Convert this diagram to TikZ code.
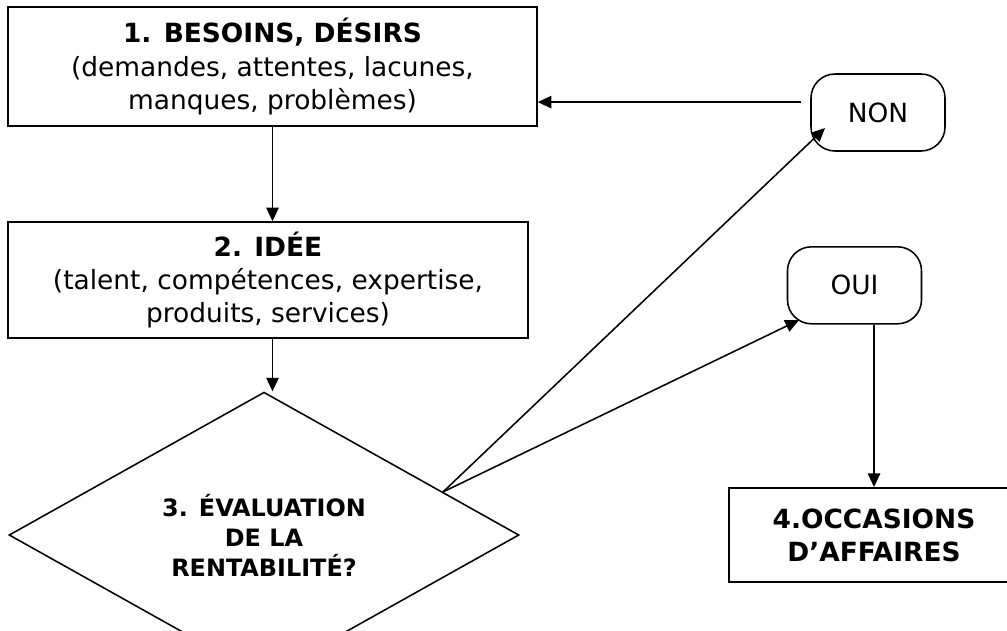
\documentclass[tikz,border=0pt]{standalone}
\usepackage{fontspec}
\setmainfont{DejaVu Sans}
\usetikzlibrary{shapes,arrows.meta,positioning,calc}

\begin{document}
\begin{tikzpicture}[
    box/.style={rectangle, draw, line width=1.1pt, align=center, inner sep=0pt, font=\fontsize{18.8}{23.5}\selectfont},
    term/.style={rectangle, rounded corners=0.6cm, draw, line width=1.1pt, inner sep=0pt, minimum width=3.35cm, minimum height=1.925cm, font=\fontsize{18.8}{23.5}\selectfont},
    decision/.style={diamond, draw, line width=1.1pt, align=center, inner sep=0pt, minimum width=12.75cm, minimum height=4.8cm, font=\fontsize{17}{21.3}\selectfont\bfseries},
    arrow/.style={-{Triangle[length=0.34cm,width=0.31cm]}, line width=1.1pt}
]
\useasboundingbox (0,0) rectangle (25.175,-15.75);

% Steps
\node[box, minimum width=13.225cm, minimum height=2.975cm] (besoins) at (6.8125,-1.6625)
    {\textbf{1. BESOINS, DÉSIRS}\\(demandes, attentes, lacunes,\\manques, problèmes)};
\node[box, minimum width=13cm, minimum height=2.9cm] (idee) at (6.7,-7.0)
    {\textbf{2. IDÉE}\\(talent, compétences, expertise,\\produits, services)};
\node[decision] (evaluation) at (6.6,-13.375) {3. ÉVALUATION\\DE LA\\RENTABILITÉ?};
\node[box, minimum width=7.25cm, minimum height=2.36cm, font=\fontsize{18.8}{23.5}\selectfont\bfseries] (occasions) at (21.85,-13.375)
    {4.OCCASIONS\\D’AFFAIRES};

% Answers
\node[term] (non) at (21.95,-2.8125) {NON};
\node[term] (oui) at (21.3625,-7.1325) {OUI};

% Arrows
\coordinate (depart) at ($(evaluation.north)!0.7!(evaluation.east)$);
\coordinate (retour) at ([shift={(-0.225,0.26)}]non.west);
\draw[arrow] (besoins.south) -- (besoins.south |- idee.north);
\draw[arrow] (besoins.south |- idee.south) -- (besoins.south |- evaluation.north);
\draw[arrow] (depart) -- ([shift={(-1.325,-0.3875)}]non.center);
\draw[arrow] (depart) -- ([shift={(-1.39,-0.87)}]oui.center);
\draw[arrow] (retour) -- (retour -| besoins.east);
\draw[arrow] (occasions.north |- oui.south) -- (occasions.north);

\end{tikzpicture}
\end{document}
